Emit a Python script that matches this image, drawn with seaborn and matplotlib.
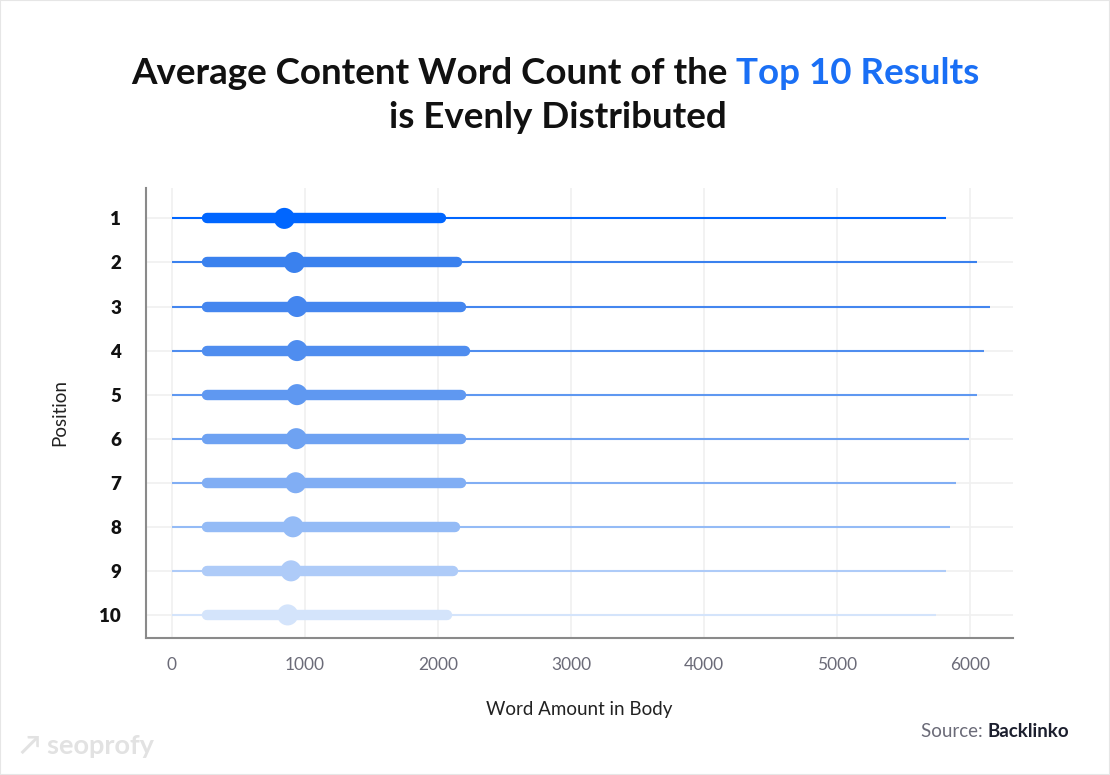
import matplotlib
matplotlib.use("Agg")
import matplotlib.pyplot as plt
import seaborn as sns
import pandas as pd
from matplotlib.patches import Rectangle

# data
positions = [1, 2, 3, 4, 5, 6, 7, 8, 9, 10]
range_min = [0, 0, 0, 0, 0, 0, 0, 0, 0, 0]
range_max = [5815, 6050, 6145, 6100, 6050, 5990, 5890, 5845, 5815, 5745]
iqr_low = [265, 265, 265, 265, 265, 265, 265, 265, 265, 265]
iqr_high = [2025, 2145, 2175, 2200, 2175, 2175, 2170, 2130, 2110, 2070]
avg_words = [845, 920, 940, 940, 940, 935, 930, 910, 895, 870]
colors = ["#0066FF", "#3A81EE", "#4486EF", "#4F8DEF", "#5F98F1", "#6EA2F2",
          "#81AEF4", "#94BBF6", "#AECBF8", "#D4E4FB"]

df = pd.DataFrame({"pos": positions, "avg": avg_words, "lo": iqr_low,
                   "hi": iqr_high, "mn": range_min, "mx": range_max})

sns.set_style("white")
plt.rcParams["font.family"] = ["Lato", "DejaVu Sans"]

fig = plt.figure(figsize=(11.1, 7.75), dpi=100)
ax = fig.add_axes([0.1315, 0.177, 0.781, 0.581])

for i, row in df.iterrows():
    c = colors[i]
    ax.hlines(row["pos"], row["mn"], row["mx"], color=c, lw=1.5, zorder=2)
    ax.plot([row["lo"], row["hi"]], [row["pos"], row["pos"]], color=c, lw=7.5,
            solid_capstyle="round", zorder=3)

sns.scatterplot(data=df, x="avg", y="pos", hue="pos", palette=colors,
                s=230, linewidth=0, legend=False, ax=ax, zorder=4)

ax.set_xlim(-195, 6320)
ax.set_ylim(10.52, 0.3)
ax.set_xticks([0, 1000, 2000, 3000, 4000, 5000, 6000])
ax.set_yticks(positions)
ax.set_yticklabels([str(p) for p in positions], fontweight="heavy", fontsize=13.5,
                   color="#111111")
for lab in ax.get_xticklabels():
    lab.set_fontsize(12.5)
    lab.set_color("#6b6b78")
ax.tick_params(axis="both", length=0)
ax.tick_params(axis="x", pad=14)
ax.tick_params(axis="y", pad=18)
ax.grid(True, color="#f0f0f0", lw=1.2, zorder=0)
ax.set_axisbelow(True)
for s in ["top", "right"]:
    ax.spines[s].set_visible(False)
for s in ["left", "bottom"]:
    ax.spines[s].set_color("#8a8a8a")
    ax.spines[s].set_linewidth(1.5)
ax.set_xlabel("Word Amount in Body", fontsize=13.5, color="#222222", labelpad=20)
ax.set_ylabel("Position", fontsize=13.5, color="#222222", labelpad=22)

# title with coloured part
fs = 26.5
t1 = fig.text(0, 0.905, "Average Content Word Count of the ", fontsize=fs,
              fontweight="bold", color="#111111", va="center", ha="left")
t2 = fig.text(0, 0.905, "Top 10 Results", fontsize=fs, fontweight="bold",
              color="#1a6ff5", va="center", ha="left")
fig.text(0.503, 0.848, "is Evenly Distributed", fontsize=fs, fontweight="bold",
         color="#111111", va="center", ha="center")
fig.canvas.draw()
r = fig.canvas.get_renderer()
w1 = t1.get_window_extent(r).width / fig.bbox.width
w2 = t2.get_window_extent(r).width / fig.bbox.width
x0 = 0.5 - (w1 + w2) / 2
t1.set_x(x0)
t2.set_x(x0 + w1)

# source
s1 = fig.text(0, 0.056, "Source: ", fontsize=13.5, color="#6b6b78", va="center")
s2 = fig.text(0, 0.056, "Backlinko", fontsize=13.5, color="#1c1f2e",
              fontweight="bold", va="center")
fig.canvas.draw()
ws1 = s1.get_window_extent(r).width / fig.bbox.width
ws2 = s2.get_window_extent(r).width / fig.bbox.width
s2.set_x(0.963 - ws2)
s1.set_x(0.963 - ws2 - ws1)

fig.text(0.018, 0.038, "↗ seoprofy", fontsize=19.5, color="#e2e2e2",
         fontweight="bold", va="center")

fig.patches.append(Rectangle((0, 0), 1, 1, transform=fig.transFigure,
                             fill=False, edgecolor="#e6e6e6", lw=1.5))

fig.savefig("out.png", dpi=100)
